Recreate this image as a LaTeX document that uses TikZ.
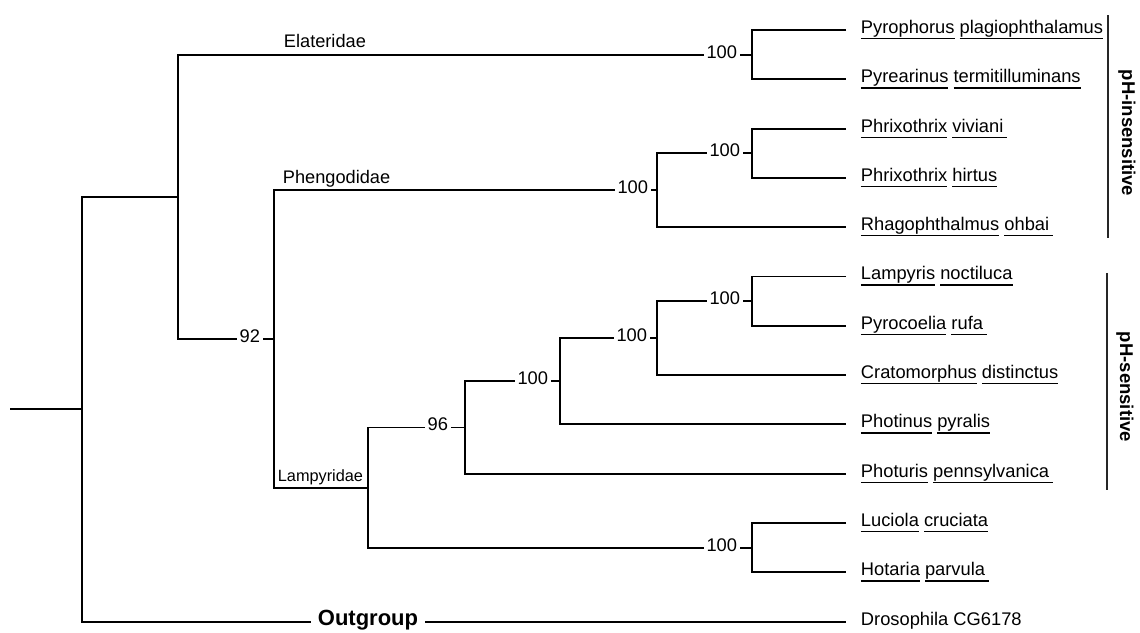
\documentclass[tikz,border=0pt]{standalone}
\usepackage{fontspec}
\setmainfont{Liberation Sans}
\usetikzlibrary{positioning}
\tikzstyle{leaf}=[anchor=west, inner xsep=14pt, inner ysep=0pt, text height=0.69em, text depth=0pt]
\tikzstyle{boot}=[fill=white, inner xsep=3pt, inner ysep=1pt, text height=0.69em, text depth=0pt]
\tikzstyle{clade}=[inner sep=0pt, font=\fontsize{18.2}{22}\selectfont]
\tikzstyle{group}=[rotate=-90, inner sep=0pt, font=\bfseries\fontsize{18.5}{22}\selectfont]
\tikzstyle{bar}=[line width=1.6pt, draw=black!85]
\newsavebox{\uwbox}
\newcommand{\uw}[1]{\sbox{\uwbox}{#1}\rlap{\rule[-5.8pt]{\wd\uwbox}{1.3pt}}\usebox{\uwbox}}

\begin{document}
\begin{tikzpicture}[x=1pt, y=-49.3pt, line width=1.9pt,
    every node/.style={font=\fontsize{18.3}{22}\selectfont}]
  \useasboundingbox (0,0.3915) rectangle (1140,13.2312);
  % species
  \foreach \t [count=\i] in {{\uw{Pyrophorus} \uw{plagiophthalamus}},
      {\uw{Pyrearinus} \uw{termitilluminans}},
      {\uw{Phrixothrix} \uw{viviani\hspace{4pt}}},
      {\uw{Phrixothrix} \uw{hirtus}},
      {\uw{Rhagophthalmus} \uw{ohbai\hspace{4pt}}},
      {\uw{Lampyris} \uw{noctiluca}},
      {\uw{Pyrocoelia} \uw{rufa\hspace{4pt}}},
      {\uw{Cratomorphus} \uw{distinctus}},
      {\uw{Photinus} \uw{pyralis}},
      {\uw{Photuris} \uw{pennsylvanica\hspace{4pt}}},
      {\uw{Luciola} \uw{cruciata}},
      {\uw{Hotaria} \uw{parvula\hspace{4pt}}},
      {Drosophila CG6178}}{
    \node[leaf] (l\i) at (846,\i) {\t};
  }
  % inner nodes
  \coordinate (elat) at (752,1.5);
  \coordinate (phrix) at (752,3.5);
  \coordinate (pheng) at (657,4.25);
  \coordinate (lamp) at (752,6.5);
  \coordinate (crato) at (657,7.25);
  \coordinate (photin) at (560,8.125);
  \coordinate (n96) at (465,9.0625);
  \coordinate (luci) at (752,11.5);
  \coordinate (lampy) at (368,10.2813);
  \coordinate (n92) at (274,7.2656);
  \coordinate (beetle) at (178,4.3828);
  \coordinate (root) at (82,8.6914);
  \coordinate (stem) at (10,8.6914);
  % branches
  \draw (l1) -| (elat) |- (l2);
  \draw (l3) -| (phrix) |- (l4);
  \draw (phrix) -| (pheng) |- (l5);
  \draw (l6) -| (lamp) |- (l7);
  \draw (lamp) -| (crato) |- (l8);
  \draw (crato) -| (photin) |- (l9);
  \draw (photin) -| (n96) |- (l10);
  \draw (l11) -| (luci) |- (l12);
  \draw (n96) -| (lampy) |- (luci);
  \draw (pheng) -| (n92) |- (lampy);
  \draw (elat) -| (beetle) |- (n92);
  \draw (beetle) -| (root) |- (l13);
  \draw (stem) -- (root);
  % bootstrap values
  \foreach \n/\d/\t [count=\q] in {elat/11pt/100, phrix/8pt/100, pheng/5pt/100,
      lamp/8pt/100, crato/6pt/100, photin/8pt/100, n96/13pt/96,
      luci/11pt/100, n92/10pt/92}{
    \node[boot, left=\d of \n] (bs\q) {\t};
  }
  % families
  \node[clade, anchor=base west, yshift=7.5pt] (elatlab) at (283,1.5) {Elateridae};
  \node[clade, anchor=base west, yshift=7pt] (penglab) at (282,4.25) {Phengodidae};
  \node[clade, anchor=base east, yshift=6.5pt, font=\fontsize{16.3}{20}\selectfont]
    (lamplab) at (364,10.2813) {Lampyridae};
  \node[boot, inner xsep=7pt, font=\bfseries\fontsize{22}{26}\selectfont]
    (outlab) at (368,13) {Outgroup};
  % pH groups
  \coordinate (ins1) at (1108,0.696);
  \coordinate (ins2) at (1108,5.219);
  \coordinate (sen1) at (1107,5.929);
  \coordinate (sen2) at (1107,10.33);
  \draw[bar] (ins1) -- (ins2);
  \draw[bar] (sen1) -- (sen2);
  \node[group] (ins) at (1127,3.09) {pH-insensitive};
  \node[group] (sen) at (1125,8.24) {pH-sensitive};
\end{tikzpicture}
\end{document}
